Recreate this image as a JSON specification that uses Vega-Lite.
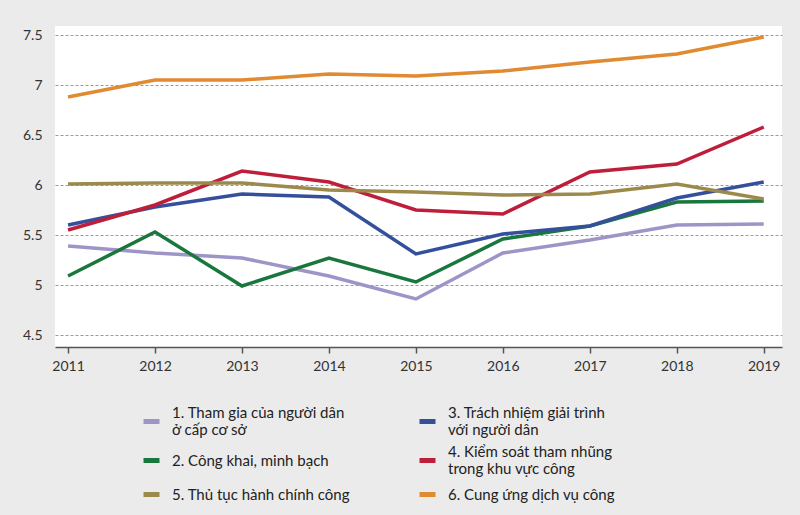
{
  "$schema": "https://vega.github.io/schema/vega-lite/v6.json",
  "width": 727,
  "height": 321,
  "autosize": "none",
  "padding": {"left": 55, "top": 26, "right": 18, "bottom": 168},
  "background": "#ebebeb",
  "config": {
    "view": {"fill": "white", "stroke": null},
    "font": "Lato"
  },
  "data": {
    "values": [
      {"year": 2011, "series": "1. Tham gia của người dân|ở cấp cơ sở", "value": 5.39},
      {"year": 2012, "series": "1. Tham gia của người dân|ở cấp cơ sở", "value": 5.32},
      {"year": 2013, "series": "1. Tham gia của người dân|ở cấp cơ sở", "value": 5.27},
      {"year": 2014, "series": "1. Tham gia của người dân|ở cấp cơ sở", "value": 5.09},
      {"year": 2015, "series": "1. Tham gia của người dân|ở cấp cơ sở", "value": 4.86},
      {"year": 2016, "series": "1. Tham gia của người dân|ở cấp cơ sở", "value": 5.32},
      {"year": 2017, "series": "1. Tham gia của người dân|ở cấp cơ sở", "value": 5.45},
      {"year": 2018, "series": "1. Tham gia của người dân|ở cấp cơ sở", "value": 5.60},
      {"year": 2019, "series": "1. Tham gia của người dân|ở cấp cơ sở", "value": 5.61},
      {"year": 2011, "series": "2. Công khai, minh bạch", "value": 5.09},
      {"year": 2012, "series": "2. Công khai, minh bạch", "value": 5.53},
      {"year": 2013, "series": "2. Công khai, minh bạch", "value": 4.99},
      {"year": 2014, "series": "2. Công khai, minh bạch", "value": 5.27},
      {"year": 2015, "series": "2. Công khai, minh bạch", "value": 5.03},
      {"year": 2016, "series": "2. Công khai, minh bạch", "value": 5.46},
      {"year": 2017, "series": "2. Công khai, minh bạch", "value": 5.59},
      {"year": 2018, "series": "2. Công khai, minh bạch", "value": 5.83},
      {"year": 2019, "series": "2. Công khai, minh bạch", "value": 5.84},
      {"year": 2011, "series": "3. Trách nhiệm giải trình|với người dân", "value": 5.60},
      {"year": 2012, "series": "3. Trách nhiệm giải trình|với người dân", "value": 5.78},
      {"year": 2013, "series": "3. Trách nhiệm giải trình|với người dân", "value": 5.91},
      {"year": 2014, "series": "3. Trách nhiệm giải trình|với người dân", "value": 5.88},
      {"year": 2015, "series": "3. Trách nhiệm giải trình|với người dân", "value": 5.31},
      {"year": 2016, "series": "3. Trách nhiệm giải trình|với người dân", "value": 5.51},
      {"year": 2017, "series": "3. Trách nhiệm giải trình|với người dân", "value": 5.59},
      {"year": 2018, "series": "3. Trách nhiệm giải trình|với người dân", "value": 5.87},
      {"year": 2019, "series": "3. Trách nhiệm giải trình|với người dân", "value": 6.03},
      {"year": 2011, "series": "4. Kiểm soát tham nhũng|trong khu vực công", "value": 5.55},
      {"year": 2012, "series": "4. Kiểm soát tham nhũng|trong khu vực công", "value": 5.80},
      {"year": 2013, "series": "4. Kiểm soát tham nhũng|trong khu vực công", "value": 6.14},
      {"year": 2014, "series": "4. Kiểm soát tham nhũng|trong khu vực công", "value": 6.03},
      {"year": 2015, "series": "4. Kiểm soát tham nhũng|trong khu vực công", "value": 5.75},
      {"year": 2016, "series": "4. Kiểm soát tham nhũng|trong khu vực công", "value": 5.71},
      {"year": 2017, "series": "4. Kiểm soát tham nhũng|trong khu vực công", "value": 6.13},
      {"year": 2018, "series": "4. Kiểm soát tham nhũng|trong khu vực công", "value": 6.21},
      {"year": 2019, "series": "4. Kiểm soát tham nhũng|trong khu vực công", "value": 6.58},
      {"year": 2011, "series": "5. Thủ tục hành chính công", "value": 6.01},
      {"year": 2012, "series": "5. Thủ tục hành chính công", "value": 6.02},
      {"year": 2013, "series": "5. Thủ tục hành chính công", "value": 6.02},
      {"year": 2014, "series": "5. Thủ tục hành chính công", "value": 5.95},
      {"year": 2015, "series": "5. Thủ tục hành chính công", "value": 5.93},
      {"year": 2016, "series": "5. Thủ tục hành chính công", "value": 5.90},
      {"year": 2017, "series": "5. Thủ tục hành chính công", "value": 5.91},
      {"year": 2018, "series": "5. Thủ tục hành chính công", "value": 6.01},
      {"year": 2019, "series": "5. Thủ tục hành chính công", "value": 5.86},
      {"year": 2011, "series": "6. Cung ứng dịch vụ công", "value": 6.88},
      {"year": 2012, "series": "6. Cung ứng dịch vụ công", "value": 7.05},
      {"year": 2013, "series": "6. Cung ứng dịch vụ công", "value": 7.05},
      {"year": 2014, "series": "6. Cung ứng dịch vụ công", "value": 7.11},
      {"year": 2015, "series": "6. Cung ứng dịch vụ công", "value": 7.09},
      {"year": 2016, "series": "6. Cung ứng dịch vụ công", "value": 7.14},
      {"year": 2017, "series": "6. Cung ứng dịch vụ công", "value": 7.23},
      {"year": 2018, "series": "6. Cung ứng dịch vụ công", "value": 7.31},
      {"year": 2019, "series": "6. Cung ứng dịch vụ công", "value": 7.48}
    ]
  },
  "mark": {"type": "line", "strokeWidth": 3.5, "strokeJoin": "miter"},
  "encoding": {
    "x": {
      "field": "year",
      "type": "quantitative",
      "scale": {"domain": [2010.85, 2019.21], "nice": false, "zero": false},
      "axis": {
        "title": null,
        "values": [2011, 2012, 2013, 2014, 2015, 2016, 2017, 2018, 2019],
        "format": "d",
        "grid": false,
        "domainColor": "#555555",
        "domainWidth": 1.5,
        "tickColor": "#555555",
        "tickWidth": 1.5,
        "tickSize": 6,
        "labelFontSize": 14,
        "labelColor": "#333333",
        "labelPadding": 6
      }
    },
    "y": {
      "field": "value",
      "type": "quantitative",
      "scale": {"domain": [4.38, 7.59], "nice": false, "zero": false},
      "axis": {
        "title": null,
        "values": [4.5, 5, 5.5, 6, 6.5, 7, 7.5],
        "format": "~g",
        "domain": false,
        "ticks": false,
        "grid": true,
        "gridColor": "#9a9a9a",
        "gridDash": [3, 2],
        "gridWidth": 1,
        "labelFontSize": 14,
        "labelColor": "#333333",
        "labelPadding": 13
      }
    },
    "color": {
      "field": "series",
      "type": "nominal",
      "scale": {
        "domain": [
          "1. Tham gia của người dân|ở cấp cơ sở",
          "2. Công khai, minh bạch",
          "5. Thủ tục hành chính công",
          "3. Trách nhiệm giải trình|với người dân",
          "4. Kiểm soát tham nhũng|trong khu vực công",
          "6. Cung ứng dịch vụ công"
        ],
        "range": ["#9d95c8", "#19773d", "#9c8a4c", "#34509c", "#bf1e3a", "#e08a31"]
      },
      "legend": {
        "title": null,
        "orient": "none",
        "legendX": 86,
        "legendY": 385,
        "columns": 2,
        "columnPadding": 59,
        "rowPadding": 7,
        "symbolType": "stroke",
        "symbolSize": 256,
        "symbolStrokeWidth": 5,
        "labelOffset": 10,
        "labelFontSize": 15,
        "labelColor": "#222222",
        "labelLimit": 300,
        "labelExpr": "split(datum.label, '|')",
        "encode": {
          "labels": {
            "update": {
              "dy": {"signal": "indexof(datum.value, '|') >= 0 ? -8.5 : 0"},
              "lineHeight": {"value": 17}
            }
          }
        }
      }
    }
  }
}
